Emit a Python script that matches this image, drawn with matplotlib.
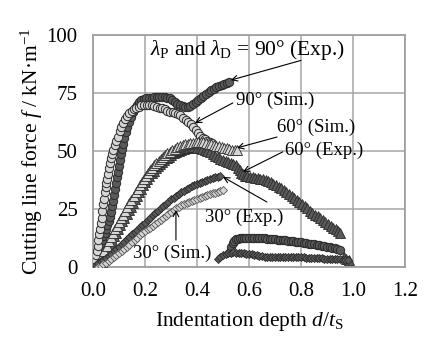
import numpy as np
import matplotlib
matplotlib.use('Agg')
import matplotlib.pyplot as plt

plt.rcParams['font.family'] = ['Liberation Serif', 'DejaVu Serif']
plt.rcParams['mathtext.fontset'] = 'custom'
plt.rcParams['mathtext.rm'] = 'Liberation Serif'
plt.rcParams['mathtext.it'] = 'Liberation Serif:italic'

# 90 deg experiment (dark circles), rising part then post-fracture tail
x90e = [0.000,0.005,0.010,0.015,0.020,0.025,0.030,0.035,0.040,0.045,0.050,0.055,0.060,0.064,0.068,0.072,
        0.076,0.080,0.084,0.088,0.092,0.096,0.100,0.104,0.108,0.112,0.116,0.121,0.126,0.132,0.138,0.145,
        0.152,0.160,0.168,0.177,0.186,0.195,0.205,0.215,0.225,0.235,0.245,0.255,0.265,0.275,0.285,0.295,
        0.305,0.315,0.325,0.335,0.345,0.355,0.365,0.375,0.385,0.395,0.405,0.415,0.425,0.435,0.445,0.455,
        0.465,0.475,0.485,0.495,0.505,0.515,0.525,
        0.527,0.532,0.538,0.544,0.550,0.558,0.566,0.574,0.582,0.590,0.600,0.610,0.620,0.630,0.640,0.650,
        0.660,0.670,0.680,0.690,0.700,0.710,0.720,0.730,0.740,0.750,0.760,0.770,0.780,0.790,0.800,0.810,
        0.820,0.830,0.840,0.850,0.860,0.870,0.880,0.890,0.900,0.910,0.920,0.930,0.940,0.950]
y90e = [0,1.8,3.6,5.4,7.3,8.8,10.3,11.8,13.2,14.8,16.4,18,19.6,21.6,23.8,26.2,
        28.5,31,33.5,36,38.6,41,43.5,46,48.5,51,53.2,55.6,58,60.3,62.5,64.8,
        66.8,68.6,70,71.2,72,72.4,72.6,72.8,73,73.2,73.3,73.4,73.3,73.2,73,72.6,
        72,71.2,70.4,69.8,69.4,69,69,69.4,70.1,70.9,71.8,72.8,73.7,74.6,75.5,76.2,
        76.8,77.4,77.9,78.4,78.9,79.3,79.7,
        6.5,8.5,10.2,11.3,11.9,12.2,12.4,12.5,12.5,12.5,12.5,12.5,12.5,12.5,12.4,12.4,
        12.3,12.2,12.1,12,11.9,11.8,11.7,11.6,11.5,11.3,11.2,11,10.9,10.8,10.6,10.5,
        10.3,10.1,9.9,9.7,9.5,9.3,9.1,8.9,8.7,8.5,8.3,8,7.7,7.3]

# 90 deg simulation (light circles)
x90s = [0.000,0.004,0.008,0.012,0.015,0.018,0.021,0.024,0.027,0.030,0.033,0.036,0.039,0.042,0.045,0.048,
        0.051,0.054,0.057,0.060,0.064,0.068,0.073,0.078,0.084,0.090,0.096,0.102,0.109,0.116,0.124,0.132,
        0.140,0.149,0.158,0.167,0.176,0.186,0.196,0.206,0.216,0.226,0.236,0.246,0.256,0.266,0.276,0.286,
        0.296,0.306,0.316,0.326,0.336,0.346,0.356,0.366,0.376,0.386,0.395,0.404,0.413,0.422,0.431,0.440,
        0.449,0.458]
y90s = [0,1.5,3.2,5.2,7,9,11.5,14,16.5,19,21.2,24,27,29.5,32.2,34.5,
        36,37.8,40,42.5,45,47,48.8,50.5,52.5,54.3,56.2,58.4,60.3,62,63.6,65,
        66.2,67.3,68,68.6,69.1,69.6,69.9,70,69.9,69.7,69.4,69,68.7,68.4,68,67.4,
        66.8,66.6,66.5,66.1,65.3,64.3,63.3,62.5,61.6,60.4,59.2,57.8,56.6,55.7,55,54.3,
        53.8,53.3]

# 60 deg experiment (dark triangles)
x60e = [0.025,0.033,0.041,0.049,0.057,0.065,0.073,0.081,0.089,0.097,0.105,0.113,0.121,0.129,0.137,0.145,
        0.153,0.161,0.169,0.177,0.185,0.193,0.201,0.209,0.217,0.225,0.233,0.241,0.249,0.257,0.265,0.274,
        0.283,0.292,0.301,0.310,0.320,0.330,0.340,0.350,0.360,0.370,0.380,0.390,0.400,0.410,0.420,0.430,
        0.440,0.450,0.460,0.470,0.480,0.490,0.500,0.510,0.520,0.530,0.540,0.550,0.558,0.564,0.570,0.576,
        0.584,0.594,0.604,0.614,0.624,0.634,0.644,0.654,0.664,0.674,0.684,0.694,0.704,0.714,0.724,0.734,
        0.744,0.754,0.764,0.774,0.784,0.794,0.804,0.814,0.824,0.834,0.844,0.854,0.864,0.874,0.884,0.894,
        0.904,0.914,0.924,0.934,0.944,0.950,0.965,0.975,0.985]
y60e = [0,2,4,6,8,9.8,11.5,13.2,14.8,16.4,18,19.6,21.2,22.8,24.4,26,
        27.6,29.2,30.8,32.3,33.8,35.2,36.6,37.9,39.1,40.3,41.4,42.5,43.5,44.4,45.3,46.1,
        46.9,47.6,48.3,48.9,49.5,50,50.5,50.9,51.2,51.4,51.5,51.5,51.4,51.2,50.9,50.5,
        50,49.4,48.7,48,47.3,46.7,46.2,45.8,45.4,45,44.5,43.8,42.8,41.6,40.6,39.9,
        39.4,39.1,38.9,38.7,38.5,38.3,38,37.7,37.4,37,36.5,35.9,35.3,34.6,33.9,33.1,
        32.3,31.5,30.6,29.7,28.8,27.9,27,26.1,25.2,24.3,23.4,22.6,21.8,21,20.2,19.4,
        18.6,17.8,17,16.2,15.4,14.8,4.5,3.5,3]

# 60 deg simulation (light triangles)
x60s = [0.020,0.028,0.036,0.044,0.052,0.060,0.068,0.076,0.084,0.092,0.100,0.108,0.116,0.124,0.132,0.140,
        0.148,0.156,0.164,0.172,0.180,0.188,0.196,0.204,0.212,0.220,0.228,0.236,0.244,0.252,0.260,0.268,
        0.277,0.286,0.295,0.305,0.315,0.325,0.335,0.345,0.355,0.365,0.375,0.385,0.395,0.405,0.415,0.425,
        0.435,0.445,0.455,0.465,0.475,0.485,0.495,0.505,0.515,0.525,0.535,0.545,0.554]
y60s = [0,2.5,4.8,7,9,11,12.8,14.5,16.2,17.8,19.4,21,22.6,24.2,25.8,27.4,
        29,30.6,32.2,33.8,35.2,36.6,38,39.3,40.5,41.7,42.8,43.9,44.9,45.8,46.7,47.5,
        48.3,49,49.7,50.4,51,51.6,52.1,52.5,52.9,53.2,53.4,53.6,53.7,53.8,53.8,53.7,
        53.5,53.2,52.9,52.6,52.3,52,51.7,51.4,51.1,50.8,50.6,50.4,50.2]

# 30 deg experiment (dark diamonds), rising part then tail
x30e = [0.00,0.01,0.02,0.03,0.04,0.05,0.06,0.07,0.08,0.09,0.10,0.11,0.12,0.13,0.14,0.15,0.16,0.17,
        0.18,0.19,0.20,0.21,0.22,0.23,0.24,0.25,0.26,0.27,0.28,0.29,0.30,0.31,0.32,0.33,0.34,0.35,
        0.36,0.37,0.38,0.39,0.40,0.41,0.42,0.43,0.44,0.45,0.46,0.47,0.48,0.49,
        0.480,0.490,0.500,0.510,0.520,0.530,0.540,0.550,0.560,0.570,0.580,0.590,0.600,0.610,0.620,0.630,
        0.640,0.650,0.660,0.670,0.680,0.690,0.700,0.710,0.720,0.730,0.740,0.750,0.760,0.770,0.780,0.790,
        0.800,0.810,0.820,0.830,0.840,0.850,0.860,0.870,0.880,0.890,0.900,0.910,0.920,0.930,0.940,0.950,
        0.960,0.970,0.980]
y30e = [0,0.8,1.6,2.4,3.2,4,4.8,5.7,6.7,7.7,8.7,9.8,10.9,11.9,12.9,14,15,16,
        17.1,18.1,19.1,20.1,21.2,22.2,23.3,24.3,25.3,26.3,27.3,28.2,29.1,29.9,30.7,31.5,32.2,32.9,
        33.6,34.2,34.8,35.3,35.8,36.3,36.8,37.2,37.6,38,38.3,38.6,38.8,39,
        3.5,4.2,5,5.6,6,6.2,6.3,6.2,6.1,6,5.9,5.8,5.6,5.4,5.2,5,
        4.8,4.6,4.5,4.4,4.3,4.3,4.2,4.2,4.1,4.1,4.1,4.2,4.3,4.4,4.4,4.3,
        4.2,4.1,4,3.9,3.9,3.8,3.8,3.7,3.7,3.6,3.6,3.5,3.5,3.4,3.4,3.3,
        3.2,3.1,3]

# 30 deg simulation (light diamonds)
x30s = [0.02,0.03,0.04,0.05,0.06,0.07,0.08,0.09,0.10,0.11,0.12,0.13,0.14,0.15,0.16,0.17,0.18,0.19,
        0.20,0.21,0.22,0.23,0.24,0.25,0.26,0.27,0.28,0.29,0.30,0.31,0.32,0.33,0.34,0.35,0.36,0.37,
        0.38,0.39,0.40,0.41,0.42,0.43,0.44,0.45,0.46,0.47,0.48,0.49,0.50]
y30s = [0,0.6,1.2,1.9,2.6,3.4,4.2,5,5.9,6.8,7.7,8.6,9.6,10.6,11.6,12.6,13.6,14.5,
        15.4,16.2,17,17.8,18.6,19.4,20.2,21.1,22,22.9,23.8,24.6,25.4,26,26.6,27.1,27.6,28.1,
        28.6,29,29.5,29.9,30.3,30.7,31.1,31.4,31.7,32,32.3,32.6,33]

xticks = [0.0, 0.2, 0.4, 0.6, 0.8, 1.0, 1.2]
yticks = [0, 25, 50, 75, 100]

dark = '#5a5a5a'
light = '#d6d6d6'
edge = '#2a2a2a'

fig = plt.figure(figsize=(4.43, 3.49), dpi=100)
ax = fig.add_axes([0.21, 0.235, 0.704, 0.665])

ax.plot(x90e, y90e, 'o', ms=6, mfc=dark, mec=edge, mew=0.7, ls='none', zorder=3)
ax.plot(x90s, y90s, 'o', ms=6, mfc=light, mec=edge, mew=0.7, ls='none', zorder=3)
ax.plot(x60e, y60e, '^', ms=6.5, mfc=dark, mec=edge, mew=0.6, ls='none', zorder=3)
ax.plot(x60s, y60s, '^', ms=6.5, mfc=light, mec=edge, mew=0.6, ls='none', zorder=3)
ax.plot(x30e, y30e, 'D', ms=3.8, mfc=dark, mec=edge, mew=0.6, ls='none', zorder=3)
ax.plot(x30s, y30s, 'D', ms=3.8, mfc=light, mec='#555555', mew=0.6, ls='none', zorder=3)

ax.set_xlim(0, 1.2)
ax.set_ylim(0, 100)
ax.set_xticks(xticks)
ax.set_xticklabels([f'{t:.1f}' for t in xticks])
ax.set_yticks(yticks)
ax.grid(True, color='#a6a6a6', lw=1.1)
ax.set_axisbelow(True)
for s in ax.spines.values():
    s.set_color('#a0a0a0')
    s.set_linewidth(1.3)
ax.tick_params(length=0, labelsize=15, pad=11)

ax.set_xlabel('Indentation depth $d$/$t_{\\mathrm{S}}$', fontsize=15.5, labelpad=6)
ax.set_ylabel('Cutting line force $f$ / kN·m$^{-1}$', fontsize=15.5, labelpad=1)

arrow = dict(arrowstyle='->', color='black', lw=0.8, shrinkA=0, shrinkB=0)
fs = 13.5
ax.text(0.219, 93.5, '$\\lambda_{\\mathrm{P}}$ and $\\lambda_{\\mathrm{D}}$ = 90° (Exp.)', fontsize=15.5, va='center')
ax.annotate('', xy=(0.53, 80.5), xytext=(0.8, 89), arrowprops=arrow)
ax.text(0.55, 72, '90° (Sim.)', fontsize=fs, va='center')
ax.annotate('', xy=(0.392, 62), xytext=(0.538, 70.7), arrowprops=arrow)
ax.text(0.708, 60, '60° (Sim.)', fontsize=fs, va='center')
ax.annotate('', xy=(0.554, 51.3), xytext=(0.708, 56), arrowprops=arrow)
ax.text(0.738, 50.4, '60° (Exp.)', fontsize=fs, va='center')
ax.annotate('', xy=(0.577, 41), xytext=(0.73, 49.6), arrowprops=arrow)
ax.text(0.431, 21.6, '30° (Exp.)', fontsize=fs, va='center')
ax.annotate('', xy=(0.5, 38.8), xytext=(0.669, 28), arrowprops=arrow)
ax.text(0.154, 6, '30° (Sim.)', fontsize=fs, va='center')
ax.annotate('', xy=(0.319, 24.6), xytext=(0.319, 11.6), arrowprops=arrow)

fig.savefig('out.png', dpi=100)
